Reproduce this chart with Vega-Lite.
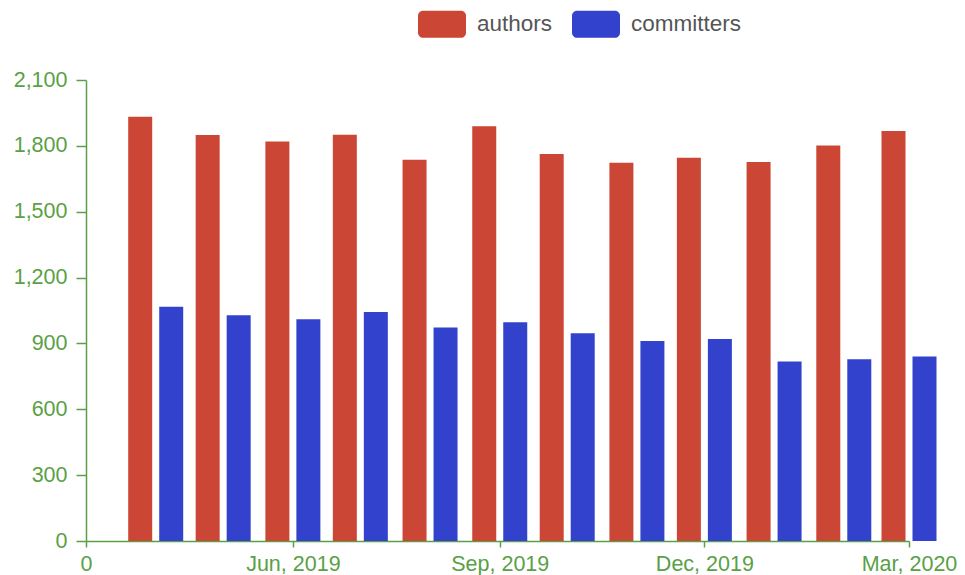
{
  "$schema": "https://vega.github.io/schema/vega-lite/v6.json",
  "autosize": {"type": "none"},
  "padding": {"left": 86, "top": 80, "right": 56, "bottom": 34},
  "width": 823,
  "height": 461,
  "background": "white",
  "config": {
    "view": {"stroke": null},
    "font": "Liberation Sans"
  },
  "data": {
    "values": [
      {"month": "2019-04-01", "series": "authors", "count": 1933},
      {"month": "2019-05-01", "series": "authors", "count": 1849},
      {"month": "2019-06-01", "series": "authors", "count": 1820},
      {"month": "2019-07-01", "series": "authors", "count": 1851},
      {"month": "2019-08-01", "series": "authors", "count": 1737},
      {"month": "2019-09-01", "series": "authors", "count": 1889},
      {"month": "2019-10-01", "series": "authors", "count": 1763},
      {"month": "2019-11-01", "series": "authors", "count": 1723},
      {"month": "2019-12-01", "series": "authors", "count": 1746},
      {"month": "2020-01-01", "series": "authors", "count": 1727},
      {"month": "2020-02-01", "series": "authors", "count": 1802},
      {"month": "2020-03-01", "series": "authors", "count": 1868},
      {"month": "2019-04-01", "series": "committers", "count": 1067},
      {"month": "2019-05-01", "series": "committers", "count": 1028},
      {"month": "2019-06-01", "series": "committers", "count": 1010},
      {"month": "2019-07-01", "series": "committers", "count": 1043},
      {"month": "2019-08-01", "series": "committers", "count": 973},
      {"month": "2019-09-01", "series": "committers", "count": 996},
      {"month": "2019-10-01", "series": "committers", "count": 946},
      {"month": "2019-11-01", "series": "committers", "count": 911},
      {"month": "2019-12-01", "series": "committers", "count": 920},
      {"month": "2020-01-01", "series": "committers", "count": 818},
      {"month": "2020-02-01", "series": "committers", "count": 828},
      {"month": "2020-03-01", "series": "committers", "count": 840}
    ]
  },
  "encoding": {
    "x": {
      "field": "month",
      "type": "temporal",
      "scale": {
        "type": "utc",
        "padding": 0,
        "domain": [
          {"year": 2019, "month": 3, "date": 1, "utc": true},
          {"year": 2020, "month": 3, "date": 1, "utc": true}
        ]
      },
      "axis": {
        "title": null,
        "grid": false,
        "values": [
          {"year": 2019, "month": 3, "date": 1, "utc": true},
          {"year": 2019, "month": 6, "date": 1, "utc": true},
          {"year": 2019, "month": 9, "date": 1, "utc": true},
          {"year": 2019, "month": 12, "date": 1, "utc": true},
          {"year": 2020, "month": 3, "date": 1, "utc": true}
        ],
        "labelExpr": "datum.index == 0 ? '0' : utcFormat(datum.value, '%b, %Y')",
        "labelFlush": false,
        "labelOverlap": false,
        "labelFontSize": 21.5,
        "labelColor": "#5aa046",
        "labelPadding": 6,
        "tickSize": 6,
        "tickColor": "#5aa046",
        "domainColor": "#5aa046",
        "domainWidth": 1.5,
        "tickWidth": 1.5
      }
    },
    "y": {
      "field": "count",
      "type": "quantitative",
      "scale": {"domain": [0, 2100], "nice": false},
      "axis": {
        "title": null,
        "grid": false,
        "values": [0, 300, 600, 900, 1200, 1500, 1800, 2100],
        "format": ",d",
        "labelFontSize": 21.5,
        "labelColor": "#5aa046",
        "labelPadding": 9,
        "tickSize": 10,
        "tickColor": "#5aa046",
        "domainColor": "#5aa046",
        "domainWidth": 1.5,
        "tickWidth": 1.5
      }
    },
    "color": {
      "field": "series",
      "type": "nominal",
      "scale": {"domain": ["authors", "committers"], "range": ["#cb4634", "#3242cc"]},
      "legend": {
        "title": null,
        "orient": "none",
        "direction": "horizontal",
        "legendX": 332,
        "legendY": -80,
        "symbolType": "M-0.79,-0.56 H0.79 A0.21,0.21 0 0 1 1,-0.35 V0.35 A0.21,0.21 0 0 1 0.79,0.56 H-0.79 A0.21,0.21 0 0 1 -1,0.35 V-0.35 A0.21,0.21 0 0 1 -0.79,-0.56 Z",
        "symbolSize": 2304,
        "symbolStrokeWidth": 0,
        "symbolOpacity": 1,
        "labelFontSize": 22.5,
        "labelColor": "#555555",
        "labelOffset": 11,
        "columnPadding": 19
      }
    }
  },
  "layer": [
    {
      "transform": [{"filter": "datum.series == 'authors'"}],
      "mark": {"type": "bar", "width": 24, "xOffset": -15.5, "clip": false}
    },
    {
      "transform": [{"filter": "datum.series == 'committers'"}],
      "mark": {"type": "bar", "width": 24, "xOffset": 15.5, "clip": false}
    }
  ]
}
